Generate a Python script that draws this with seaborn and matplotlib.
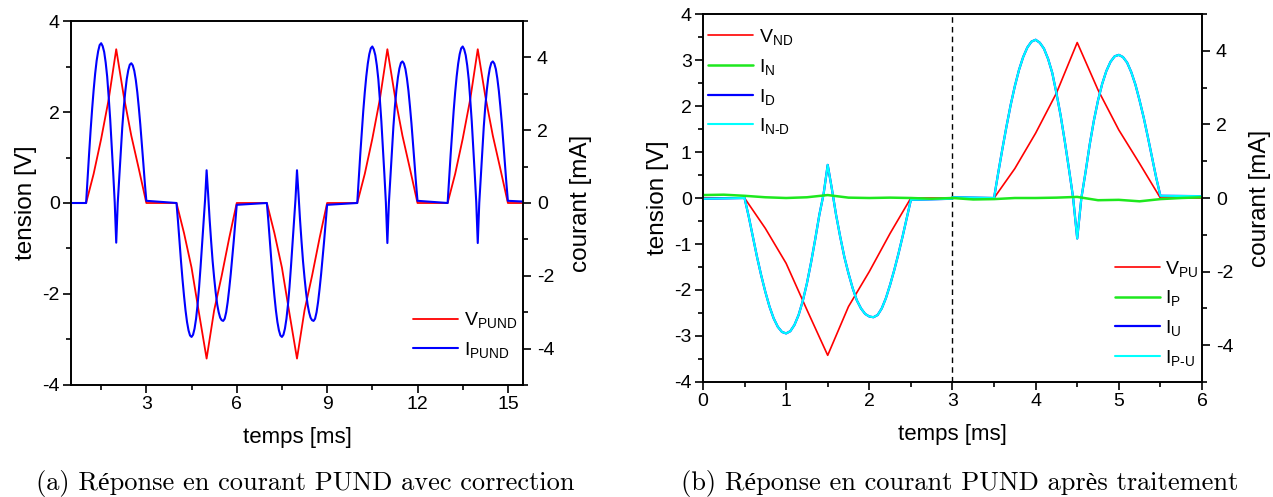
import numpy as np
import matplotlib
matplotlib.use("Agg")
import matplotlib.pyplot as plt
import seaborn as sns
from matplotlib.ticker import MultipleLocator

# --- values ---
# time inside one 2 ms pulse (ms): currents every 0.05 ms, voltage every 0.25 ms
PULSE_T_I = np.linspace(0.0, 2.0, 41)
PULSE_T_V = [0.0, 0.25, 0.5, 0.75, 1.0, 1.25, 1.5, 1.75, 2.0]

# voltage shape of a pulse (V)
V_POS = [0.0, 0.64, 1.41, 2.28, 3.38, 2.35, 1.48, 0.75, 0.0]
V_NEG = [0.0, -0.66, -1.42, -2.43, -3.42, -2.36, -1.60, -0.77, 0.0]

# current during a positive (P/U) and a negative (N/D) pulse (mA)
I_POS = [0.0, 0.68, 1.33, 1.95, 2.53, 3.04, 3.48, 3.83, 4.09, 4.25, 4.30,
         4.22, 4.06, 3.78, 3.40, 2.85, 2.25, 1.55, 0.80, 0.02, -1.10,
         0.0, 0.70, 1.45, 2.10, 2.65, 3.10, 3.45, 3.70, 3.85, 3.89,
         3.83, 3.68, 3.42, 3.08, 2.65, 2.18, 1.65, 1.10, 0.55, 0.06]
I_NEG = [0.0, -0.50, -1.05, -1.60, -2.10, -2.55, -2.95, -3.27, -3.50, -3.64, -3.68,
         -3.62, -3.45, -3.18, -2.80, -2.32, -1.75, -1.12, -0.45, 0.10, 0.90,
         0.25, -0.45, -1.05, -1.60, -2.05, -2.45, -2.78, -3.00, -3.15, -3.22,
         -3.24, -3.18, -3.00, -2.72, -2.36, -1.96, -1.52, -1.05, -0.55, -0.05]
# first (pre-poling) pulse of the sequence
I_FIRST = [0.0, 0.70, 1.36, 2.00, 2.58, 3.10, 3.55, 3.91, 4.17, 4.34, 4.39,
           4.31, 4.15, 3.86, 3.47, 2.91, 2.30, 1.58, 0.82, 0.02, -1.09,
           0.0, 0.69, 1.43, 2.07, 2.62, 3.06, 3.41, 3.65, 3.80, 3.84,
           3.78, 3.63, 3.38, 3.04, 2.62, 2.15, 1.63, 1.09, 0.54, 0.06]

# (a) full PUND sequence
PUND_STARTS = [1.0, 4.0, 7.0, 10.0, 13.0]
PUND_V = [V_POS, V_NEG, V_NEG, V_POS, V_POS]
PUND_I = [I_FIRST, I_NEG, I_NEG, I_POS, I_POS]

# (b) switching currents I_N / I_P (mA), close to zero
T_GREEN_N = [0.0, 0.25, 0.5, 0.75, 1.0, 1.25, 1.5, 1.75, 2.0, 2.25, 2.5, 2.75, 3.0]
I_N = [0.08, 0.09, 0.06, 0.02, 0.0, 0.02, 0.08, 0.01, 0.0, 0.01, 0.0, -0.02, 0.0]
T_GREEN_P = [3.0, 3.25, 3.5, 3.75, 4.0, 4.25, 4.5, 4.75, 5.0, 5.25, 5.5, 5.75, 6.0]
I_P = [0.0, -0.04, -0.03, 0.0, 0.0, 0.01, 0.03, -0.06, -0.05, -0.09, -0.03, 0.0, 0.02]

RED, BLUE, GREEN, CYAN = "#ff0000", "#0000ff", "#1ee81e", "#00ffff"

# --- style ---
sns.set_theme(style="ticks", rc={"axes.edgecolor": "black", "text.color": "black",
                                 "xtick.color": "black", "ytick.color": "black",
                                 "axes.labelcolor": "black"})
plt.rcParams["font.family"] = ["Liberation Sans", "DejaVu Sans"]
plt.rcParams["axes.unicode_minus"] = False
plt.rcParams["mathtext.fontset"] = "custom"
plt.rcParams["mathtext.rm"] = "Liberation Sans"
plt.rcParams["mathtext.it"] = "Liberation Sans:italic"
plt.rcParams["mathtext.default"] = "rm"

LEG_KW = dict(frameon=False, fontsize=14, handlelength=2.3, handletextpad=0.3,
              labelspacing=0.5)


def style_axes(ax, axr, xlim, xmaj, ylim, ymaj):
    ax.set_xlim(xlim)
    ax.set_ylim(ylim)
    axr.set_ylim(-5, 5)
    ax.xaxis.set_major_locator(MultipleLocator(xmaj))
    ax.xaxis.set_minor_locator(MultipleLocator(xmaj / 2))
    ax.yaxis.set_major_locator(MultipleLocator(ymaj))
    ax.yaxis.set_minor_locator(MultipleLocator(ymaj / 2))
    axr.yaxis.set_major_locator(MultipleLocator(2))
    axr.yaxis.set_minor_locator(MultipleLocator(1))
    for a in (ax, axr):
        for s in a.spines.values():
            s.set_linewidth(1.2)
    ax.tick_params(which="both", direction="out", top=False, right=False,
                   labelsize=14, width=1.2, pad=2)
    axr.tick_params(which="both", direction="out", left=False, right=True,
                    labelsize=14, width=1.2, pad=4)
    for a in (ax, axr):
        a.tick_params(which="major", length=6)
        a.tick_params(which="minor", length=3.5)
    ax.set_xlabel("temps [ms]", fontsize=16, labelpad=10)
    ax.set_ylabel("tension [V]", fontsize=17.5, labelpad=4)
    axr.set_ylabel("courant [mA]", fontsize=17.5, labelpad=11)


def draw(ax, x, y, color, lw):
    sns.lineplot(x=x, y=y, ax=ax, color=color, lw=lw, sort=False, estimator=None)
    return ax.lines[-1]


fig = plt.figure(figsize=(12.73, 4.97), dpi=100)

# --- (a) ---
t_v = [0.5] + [s + r for s in PUND_STARTS for r in PULSE_T_V] + [15.5]
v_a = [0.0] + [v for pulse in PUND_V for v in pulse] + [0.0]
t_i = [0.5] + [s + r for s in PUND_STARTS for r in PULSE_T_I] + [15.5]
i_a = [0.0] + [i for pulse in PUND_I for i in pulse] + [0.04]

ax1 = fig.add_axes([0.0558, 0.2254, 0.3550, 0.7323])
ax2 = ax1.twinx()
h_v = draw(ax1, t_v, v_a, RED, 1.3)
h_i = draw(ax2, t_i, i_a, BLUE, 1.5)
style_axes(ax1, ax2, (0.5, 15.5), 3, (-4, 4), 2)
ax2.legend(handles=[h_v, h_i],
           labels=[r"V$_{\mathrm{PUND}}$", r"I$_{\mathrm{PUND}}$"],
           loc="lower right", bbox_to_anchor=(1.025, 0.02), **LEG_KW)

# --- (b) ---
t_nd_v = [0.0] + [0.5 + r for r in PULSE_T_V] + [3.0]
v_nd = [0.0] + V_NEG + [0.0]
t_pu_v = [3.0] + [3.5 + r for r in PULSE_T_V] + [6.0]
v_pu = [0.0] + V_POS + [0.0]
t_nd_i = [0.0] + [0.5 + r for r in PULSE_T_I] + [3.0]
i_nd = [-0.02] + I_NEG + [-0.02]
t_pu_i = [3.0] + [3.5 + r for r in PULSE_T_I] + [6.0]
i_pu = [0.02] + I_POS + [0.05]

ax3 = fig.add_axes([0.5522, 0.2314, 0.3920, 0.7404])
ax4 = ax3.twinx()
ax3.axvline(3.0, color="black", lw=1, ls=(0, (4, 3)))
h_vnd = draw(ax3, t_nd_v, v_nd, RED, 1.2)
h_vpu = draw(ax3, t_pu_v, v_pu, RED, 1.2)
h_id = draw(ax4, t_nd_i, i_nd, BLUE, 1.6)
h_iu = draw(ax4, t_pu_i, i_pu, BLUE, 1.6)
h_ind = draw(ax4, t_nd_i, i_nd, CYAN, 1.5)
h_ipu = draw(ax4, t_pu_i, i_pu, CYAN, 1.5)
h_in = draw(ax4, T_GREEN_N, I_N, GREEN, 1.8)
h_ip = draw(ax4, T_GREEN_P, I_P, GREEN, 1.8)
style_axes(ax3, ax4, (0, 6), 1, (-4, 4), 1)

leg_top = ax4.legend(handles=[h_vnd, h_in, h_id, h_ind],
                     labels=[r"V$_{\mathrm{ND}}$", r"I$_{\mathrm{N}}$",
                             r"I$_{\mathrm{D}}$", r"I$_{\mathrm{N\text{-}D}}$"],
                     loc="upper left", bbox_to_anchor=(-0.024, 1.012), **LEG_KW)
ax4.add_artist(leg_top)
ax4.legend(handles=[h_vpu, h_ip, h_iu, h_ipu],
           labels=[r"V$_{\mathrm{PU}}$", r"I$_{\mathrm{P}}$",
                   r"I$_{\mathrm{U}}$", r"I$_{\mathrm{P\text{-}U}}$"],
           loc="lower right", bbox_to_anchor=(1.028, -0.009), **LEG_KW)

# --- captions ---
cap_font = ["cmr10", "Liberation Serif"]
fig.text(0.2396, 0.028, "(a) Réponse en courant PUND avec correction",
         ha="center", va="center", fontsize=19, family=cap_font)
fig.text(0.754, 0.028, "(b) Réponse en courant PUND après traitement",
         ha="center", va="center", fontsize=19, family=cap_font)

fig.savefig("out.png", dpi=100)
